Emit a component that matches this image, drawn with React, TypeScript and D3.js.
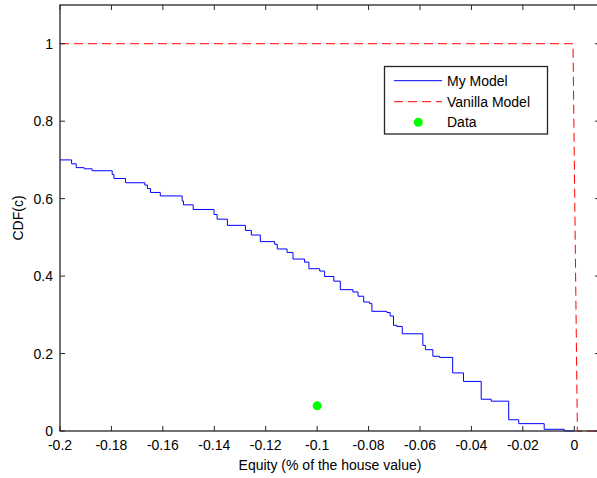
import React, { useEffect, useRef } from "react";
import * as d3 from "d3";

// My Model: empirical CDF steps (x where the step happens, level after it)
const modelX = [
  -0.2, -0.1955, -0.1937, -0.1906, -0.1875, -0.1797, -0.179, -0.1745, -0.167, -0.166,
  -0.1648, -0.161, -0.1525, -0.152, -0.1482, -0.1401, -0.1389, -0.1349, -0.1279, -0.1256,
  -0.1221, -0.1165, -0.1155, -0.1117, -0.1094, -0.1049, -0.1032, -0.099, -0.0971, -0.0935,
  -0.091, -0.0861, -0.0841, -0.0819, -0.0796, -0.0787, -0.0729, -0.0716, -0.0703, -0.069,
  -0.0669, -0.0589, -0.0579, -0.055, -0.0524, -0.0473, -0.0431, -0.0362, -0.0323, -0.0255,
  -0.0216, -0.0117, -0.0039, 0,
];
const modelY = [
  0.7, 0.69, 0.68, 0.677, 0.672, 0.662, 0.652, 0.641, 0.635, 0.626,
  0.616, 0.607, 0.594, 0.584, 0.572, 0.559, 0.547, 0.531, 0.518, 0.506,
  0.489, 0.482, 0.47, 0.461, 0.444, 0.436, 0.419, 0.413, 0.399, 0.387,
  0.365, 0.359, 0.348, 0.333, 0.329, 0.309, 0.306, 0.297, 0.273, 0.27,
  0.251, 0.221, 0.21, 0.193, 0.19, 0.15, 0.128, 0.082, 0.077, 0.029,
  0.019, 0.0044, 0, 0,
];

// Vanilla Model
const vanillaX = [-0.2, -0.0005, 0.0012, 0.01];
const vanillaY = [1, 1, 0, 0];

// Data point
const dataX = [-0.1];
const dataY = [0.065];

const xTicks = [-0.2, -0.18, -0.16, -0.14, -0.12, -0.1, -0.08, -0.06, -0.04, -0.02, 0];
const yTicks = [0, 0.2, 0.4, 0.6, 0.8, 1];

const legendLabels = ["My Model", "Vanilla Model", "Data"];

export default function App() {
  const ref = useRef<HTMLDivElement>(null);

  useEffect(() => {
    document.body.style.margin = "0";
    const container = d3.select(ref.current);
    container.selectAll("*").remove();

    const width = 597;
    const height = 478;
    const margin = { top: 5, right: -3, bottom: 47, left: 60 };
    const font = "'Liberation Sans', Arial, sans-serif";

    const svg = container
      .append("svg")
      .attr("width", width)
      .attr("height", height)
      .style("display", "block")
      .style("font-family", font);

    svg.append("rect").attr("width", width).attr("height", height).attr("fill", "#fff");

    const x = d3.scaleLinear().domain([-0.2, 0.01]).range([margin.left, width - margin.right]);
    const y = d3.scaleLinear().domain([0, 1.1]).range([height - margin.bottom, margin.top]);

    const x0 = x.range()[0], x1 = x.range()[1];
    const y0 = y.range()[0], y1 = y.range()[1];

    // lines
    const model = modelX.map((d, i) => [d, modelY[i]] as [number, number]);
    const vanilla = vanillaX.map((d, i) => [d, vanillaY[i]] as [number, number]);

    const stepLine = d3.line<[number, number]>().x((d) => x(d[0])).y((d) => y(d[1])).curve(d3.curveStepAfter);
    const straight = d3.line<[number, number]>().x((d) => x(d[0])).y((d) => y(d[1]));

    svg.append("path").attr("d", stepLine(model)).attr("fill", "none").attr("stroke", "#0000ff").attr("stroke-width", 1);
    svg.append("path").attr("d", straight(vanilla)).attr("fill", "none").attr("stroke", "#ff0000")
      .attr("stroke-width", 1).attr("stroke-dasharray", "9,5");

    svg.selectAll("circle.data").data(dataX).join("circle").attr("class", "data")
      .attr("cx", (d) => x(d)).attr("cy", (d, i) => y(dataY[i])).attr("r", 4.5).attr("fill", "#00ff00");

    // axes box
    const ax = "#262626";
    svg.append("rect").attr("x", x0).attr("y", y1).attr("width", x1 - x0).attr("height", y0 - y1)
      .attr("fill", "none").attr("stroke", ax).attr("stroke-width", 1.3);

    const tl = 5;
    xTicks.forEach((t) => {
      svg.append("line").attr("x1", x(t)).attr("x2", x(t)).attr("y1", y0).attr("y2", y0 - tl).attr("stroke", ax);
      svg.append("line").attr("x1", x(t)).attr("x2", x(t)).attr("y1", y1).attr("y2", y1 + tl).attr("stroke", ax);
      svg.append("text").attr("x", x(t)).attr("y", y0 + 19).attr("text-anchor", "middle")
        .attr("font-size", 14).attr("fill", "#000").text(String(+t.toFixed(2)));
    });
    yTicks.forEach((t) => {
      svg.append("line").attr("x1", x0).attr("x2", x0 + tl).attr("y1", y(t)).attr("y2", y(t)).attr("stroke", ax);
      svg.append("line").attr("x1", x1).attr("x2", x1 - tl).attr("y1", y(t)).attr("y2", y(t)).attr("stroke", ax);
      svg.append("text").attr("x", x0 - 7).attr("y", y(t)).attr("dy", "0.36em").attr("text-anchor", "end")
        .attr("font-size", 14).attr("fill", "#000").text(String(+t.toFixed(1)));
    });

    svg.append("text").attr("x", (x0 + x1) / 2).attr("y", 470).attr("text-anchor", "middle")
      .attr("font-size", 14).attr("fill", "#000").text("Equity (% of the house value)");
    svg.append("text").attr("transform", `translate(23, ${(y0 + y1) / 2}) rotate(-90)`)
      .attr("text-anchor", "middle").attr("font-size", 14).attr("fill", "#000").text("CDF(c)");

    // legend
    const lg = svg.append("g");
    lg.append("rect").attr("x", 384.5).attr("y", 66.5).attr("width", 163).attr("height", 67.5)
      .attr("fill", "#fff").attr("stroke", ax).attr("stroke-width", 1.3);
    const rowY = [80.7, 101.7, 122.3];
    lg.append("line").attr("x1", 394).attr("x2", 442).attr("y1", rowY[0]).attr("y2", rowY[0]).attr("stroke", "#0000ff");
    lg.append("line").attr("x1", 394).attr("x2", 442).attr("y1", rowY[1]).attr("y2", rowY[1]).attr("stroke", "#ff0000")
      .attr("stroke-dasharray", "9,5").attr("stroke-dashoffset", 0);
    lg.append("circle").attr("cx", 418.3).attr("cy", rowY[2]).attr("r", 4.5).attr("fill", "#00ff00");
    legendLabels.forEach((l, i) => {
      lg.append("text").attr("x", 447).attr("y", rowY[i]).attr("dy", "0.36em").attr("font-size", 14)
        .attr("fill", "#000").text(l);
    });
  }, []);

  return <div ref={ref} style={{ width: 597, height: 478 }}></div>;
}
